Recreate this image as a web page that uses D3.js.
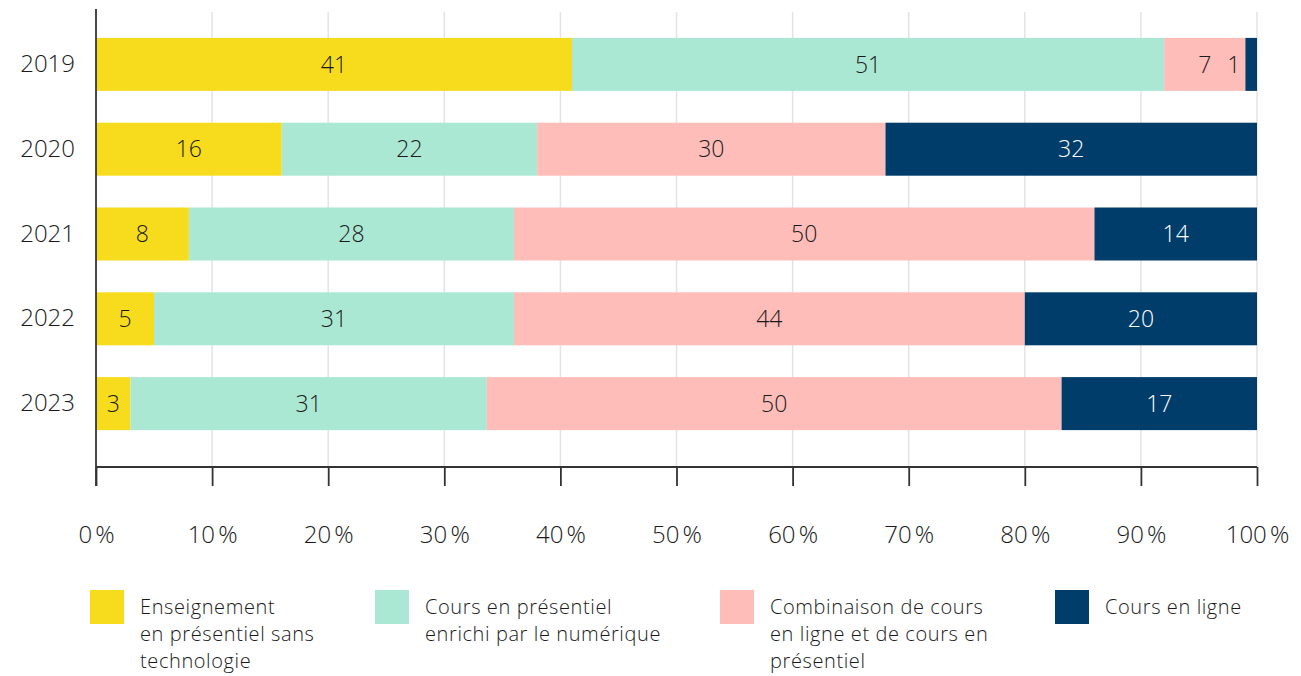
<!DOCTYPE html>
<html><head><meta charset="utf-8">
<script src="https://cdn.jsdelivr.net/npm/d3@7"></script>
<style>body{margin:0;background:#fff;} svg{display:block;font-family:"Open Sans",Lato,sans-serif;}</style>
</head><body><svg id="c" width="1301" height="676"></svg>
<script>
const years = ["2019","2020","2021","2022","2023"];
const seriesNames = [
  "Enseignement en présentiel sans technologie",
  "Cours en présentiel enrichi par le numérique",
  "Combinaison de cours en ligne et de cours en présentiel",
  "Cours en ligne"
];
const seriesLegendLines = [
  ["Enseignement","en présentiel sans","technologie"],
  ["Cours en présentiel","enrichi par le numérique"],
  ["Combinaison de cours","en ligne et de cours en","présentiel"],
  ["Cours en ligne"]
];
const sansTech   = [41,16,8,5,3];
const enrichi    = [51,22,28,31,31];
const combinaison= [7,30,50,44,50];
const enLigne    = [1,32,14,20,17];
const colors = ["#F7DC1E","#ABE8D3","#FFBDB9","#003D6B"];
const xTicks = [0,0.1,0.2,0.3,0.4,0.5,0.6,0.7,0.8,0.9,1];

const FONT = "'Open Sans', Lato, sans-serif";
const keys = ["a","b","c","d"];
const rows = years.map((y,i)=>({year:y,a:sansTech[i],b:enrichi[i],c:combinaison[i],d:enLigne[i]}));
const stack = d3.stack().keys(keys).offset(d3.stackOffsetExpand)(rows);

const svg = d3.select("#c");
const x = d3.scaleLinear().domain([0,1]).range([96,1257]);
const y = d3.scaleBand().domain(years).range([22,446]).paddingInner(0.375).paddingOuter(0.1875);

// gridlines
svg.append("g").selectAll("line").data(xTicks.slice(1)).join("line")
  .attr("x1",d=>x(d)).attr("x2",d=>x(d)).attr("y1",12).attr("y2",467)
  .attr("stroke","#e3e3e3").attr("stroke-width",1.5);

// bars
const g = svg.append("g");
stack.forEach((s,si)=>{
  g.append("g").selectAll("rect").data(s).join("rect")
    .attr("x",d=>x(d[0])).attr("width",d=>x(d[1])-x(d[0]))
    .attr("y",d=>y(d.data.year)).attr("height",y.bandwidth())
    .attr("fill",colors[si]);
});
// labels
stack.forEach((s,si)=>{
  g.append("g").selectAll("text").data(s).join("text")
    .attr("x",d=>{const w=x(d[1])-x(d[0]); return w<20 ? x(d[0])-5 : (x(d[0])+x(d[1]))/2;})
    .attr("text-anchor",d=>(x(d[1])-x(d[0]))<20?"end":"middle")
    .attr("y",d=>y(d.data.year)+y.bandwidth()/2)
    .attr("dy","0.36em")
    .attr("font-size",23).attr("font-weight",300)
    .attr("fill",d=>(si===3 && (x(d[1])-x(d[0]))>=20)?"#ffffff":"#1a1a1a")
    .text(d=>d.data[keys[si]]);
});

// axes
const xAxis = d3.axisBottom(x).tickValues(xTicks).tickSize(19).tickFormat(d=>Math.round(d*100)+"\u202F%");
const ax = svg.append("g").attr("transform","translate(0,467)").call(xAxis);
ax.select(".domain").attr("stroke","#333").attr("stroke-width",1.8).attr("d","M96,0H1257");
ax.selectAll(".tick line").attr("stroke","#333").attr("stroke-width",1.8);
ax.selectAll(".tick text").attr("font-size",24).attr("font-weight",300).attr("fill","#1a1a1a")
  .attr("font-family",FONT).attr("y",59);

svg.append("line").attr("x1",96).attr("x2",96).attr("y1",9).attr("y2",486)
  .attr("stroke","#333").attr("stroke-width",1.8);

const yAxis = d3.axisLeft(y).tickSize(0).tickPadding(21);
const ay = svg.append("g").attr("transform","translate(96,0)").call(yAxis);
ay.select(".domain").remove();
ay.selectAll(".tick text").attr("font-size",24).attr("font-weight",300).attr("fill","#1a1a1a")
  .attr("font-family",FONT);

// legend
const legX = [90,375,720,1055];
const leg = svg.append("g");
seriesNames.forEach((n,i)=>{
  const lg = leg.append("g").attr("transform",`translate(${legX[i]},590)`);
  lg.append("rect").attr("width",34).attr("height",34).attr("fill",colors[i]);
  const t = lg.append("text").attr("x",50).attr("y",23.5).attr("font-size",20)
    .attr("letter-spacing",0.6).attr("font-weight",300).attr("fill","#1a1a1a");
  seriesLegendLines[i].forEach((l,j)=>t.append("tspan").attr("x",50).attr("dy",j?27.3:0).text(l));
});
</script></body></html>
